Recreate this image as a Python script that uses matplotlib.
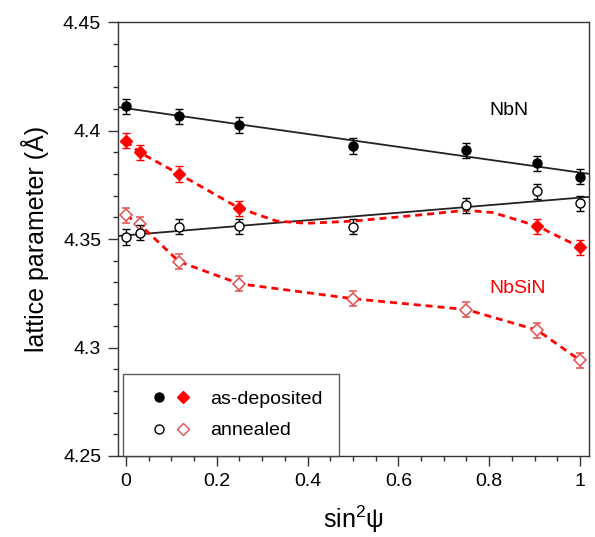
import matplotlib
matplotlib.use("Agg")
import matplotlib.pyplot as plt
from matplotlib.lines import Line2D
from matplotlib.legend_handler import HandlerTuple
import numpy as np

plt.rcParams['font.family'] = ['Liberation Sans', 'DejaVu Sans']
plt.rcParams['mathtext.fontset'] = 'custom'
plt.rcParams['mathtext.rm'] = 'Liberation Sans'
plt.rcParams['mathtext.it'] = 'Liberation Sans'

# sin^2(psi) positions
sin2psi = [0, 0.03, 0.117, 0.25, 0.5, 0.75, 0.906, 1.0]

# NbN
nbn_dep_x = [0, 0.117, 0.25, 0.5, 0.75, 0.906, 1.0]
nbn_dep = [4.4113, 4.4066, 4.4026, 4.3929, 4.3909, 4.3849, 4.3787]
nbn_ann = [4.3510, 4.3530, 4.3558, 4.3560, 4.3558, 4.3656, 4.3720, 4.3665]

# NbSiN
nbsin_dep_x = [0, 0.03, 0.117, 0.25, 0.906, 1.0]
nbsin_dep = [4.3953, 4.3900, 4.3800, 4.3642, 4.3560, 4.3463]
nbsin_ann = [4.3610, 4.3568, 4.3396, 4.3294, 4.3225, 4.3175, 4.3080, 4.2941]

# dashed guide through the as-deposited NbSiN points
guide_x = [0, 0.03, 0.117, 0.25, 0.332, 0.398, 0.5, 0.64, 0.75, 0.809, 0.906, 1.0]
guide_y = [4.3953, 4.3900, 4.3800, 4.3642, 4.3583, 4.3573, 4.3583, 4.3610, 4.3633, 4.3622, 4.3560, 4.3463]

err = 0.0035
red = '#ff0000'
light_red = '#e05050'

fig = plt.figure(figsize=(5.95, 5.37), dpi=100)
ax = fig.add_axes([0.198, 0.151, 0.792, 0.8075])

xlim = (-0.018, 1.02)
xx = np.array(xlim)

# linear fits for NbN
p1 = np.polyfit(nbn_dep_x, nbn_dep, 1)
p2 = np.polyfit(sin2psi, nbn_ann, 1)
ax.plot(xx, np.polyval(p1, xx), color='#222222', lw=1.3, zorder=2)
ax.plot(xx, np.polyval(p2, xx), color='#222222', lw=1.3, zorder=2)

# NbSiN guides
ax.plot(guide_x, guide_y, color=red, lw=2, ls=(0, (2.5, 1.8)), zorder=2)
ax.plot(sin2psi, nbsin_ann, color=red, lw=2, ls=(0, (2.5, 1.8)), zorder=2)

ax.errorbar(sin2psi, nbsin_ann, yerr=err, fmt='D', ms=6.5, mfc='white',
            mec=light_red, mew=1.1, ecolor=light_red, elinewidth=1, capsize=3, zorder=3)
ax.errorbar(nbsin_dep_x, nbsin_dep, yerr=err, fmt='D', ms=6.5, mfc=red,
            mec=red, ecolor=red, elinewidth=1, capsize=3, zorder=4)
ax.errorbar(sin2psi, nbn_ann, yerr=err, fmt='o', ms=6.5, mfc='white',
            mec='black', mew=1, ecolor='black', elinewidth=1, capsize=3, zorder=5)
ax.errorbar(nbn_dep_x, nbn_dep, yerr=err, fmt='o', ms=6.5, mfc='black',
            mec='black', ecolor='black', elinewidth=1, capsize=3, zorder=5)

ax.text(0.80, 4.4094, 'NbN', fontsize=14, color='black', va='center')
ax.text(0.80, 4.327, 'NbSiN', fontsize=14, color=red, va='center')

ax.set_xlim(*xlim)
ax.set_ylim(4.25, 4.45)
ax.set_xticks([0, 0.2, 0.4, 0.6, 0.8, 1.0])
ax.set_xticklabels(['0', '0.2', '0.4', '0.6', '0.8', '1'])
ax.set_xticks(np.arange(0, 1.01, 0.05), minor=True)
ax.set_yticks([4.25, 4.3, 4.35, 4.4, 4.45])
ax.set_yticklabels(['4.25', '4.3', '4.35', '4.4', '4.45'])
ax.set_yticks(np.arange(4.25, 4.451, 0.01), minor=True)
ax.tick_params(which='both', direction='out', labelsize=14, top=False, right=False,
               color='#333333')
ax.tick_params(which='major', length=7, width=1, pad=5)
ax.tick_params(which='minor', length=3.5, width=1)
for s in ax.spines.values():
    s.set_linewidth(1)
    s.set_color('#333333')

ax.set_ylabel('lattice parameter (Å)', fontsize=18, labelpad=10)
ax.set_xlabel(r'sin$^{2}$ψ', fontsize=18, labelpad=10)

h_dep = (Line2D([], [], marker='o', ls='none', ms=6.5, mfc='black', mec='black'),
         Line2D([], [], marker='D', ls='none', ms=6.5, mfc=red, mec=red))
h_ann = (Line2D([], [], marker='o', ls='none', ms=6.5, mfc='white', mec='black'),
         Line2D([], [], marker='D', ls='none', ms=6.5, mfc='white', mec=light_red))
leg = ax.legend([h_dep, h_ann], ['as-deposited', 'annealed'],
                handler_map={tuple: HandlerTuple(ndivide=None, pad=-0.77)},
                loc='lower left', bbox_to_anchor=(0.0106, 0.0), borderaxespad=0,
                fontsize=14, frameon=True, fancybox=False, handlelength=3.25,
                handletextpad=0.39, borderpad=0.85, labelspacing=0.7)
leg.get_frame().set_edgecolor('#333333')
leg.get_frame().set_linewidth(1)

fig.savefig('out.png', dpi=100)
